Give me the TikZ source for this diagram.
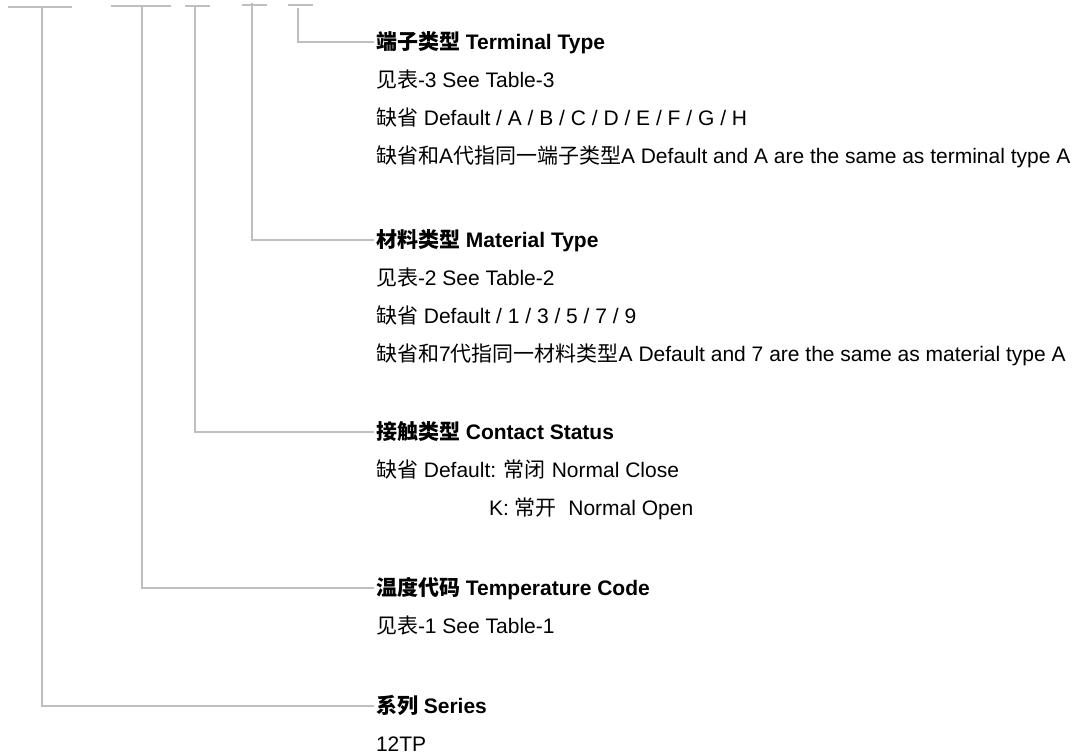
\documentclass[tikz,border=0pt]{standalone}
\usepackage{fontspec}
\setmainfont{Liberation Sans}
\newfontfamily\cjk{Noto Sans CJK SC}
\newcommand\zh[1]{{\cjk #1}}
\begin{document}
\begin{tikzpicture}[x=1pt,y=-1pt,
  txt/.style={anchor=west,inner xsep=2pt,inner ysep=0pt,outer sep=0pt,
    text height=14pt,text depth=0pt,font=\fontsize{21}{25}\selectfont},
  ttl/.style={txt,font=\fontsize{21}{25}\selectfont\bfseries},
  ln/.style={draw=black!25,line width=1.5pt}]
\useasboundingbox (0,0) rectangle (1082,755);
% top ticks
\coordinate (a1) at (8,7);   \coordinate (b1) at (72,7);   \coordinate (v1) at (42,7);
\coordinate (a2) at (111,6); \coordinate (b2) at (171,6);  \coordinate (v2) at (142,6);
\coordinate (a3) at (185,6); \coordinate (b3) at (210,6);  \coordinate (v3) at (195,6);
\coordinate (a4) at (242,5); \coordinate (b4) at (267,5);  \coordinate (v4) at (252,3);
\coordinate (a5) at (288,5); \coordinate (b5) at (313,5);  \coordinate (v5) at (298,8);
\draw[ln] (a1) -- (b1);
\draw[ln] (a2) -- (b2);
\draw[ln] (a3) -- (b3);
\draw[ln] (a4) -- (b4);
\draw[ln] (a5) -- (b5);
% texts
\node[ttl] (term) at (374,42) {\zh{端子类型} Terminal Type};
\node[txt] (term1) at (374,80) {\zh{见表}-3 See Table-3};
\node[txt] (term2) at (374,118) {\zh{缺省} Default / A / B / C / D / E / F / G / H};
\node[txt] (term3) at (374,156) {\zh{缺省和}A\zh{代指同一端子类型}A Default and A are the same as terminal type A};
\node[ttl] (mat) at (374,240) {\zh{材料类型} Material Type};
\node[txt] (mat1) at (374,278) {\zh{见表}-2 See Table-2};
\node[txt] (mat2) at (374,316) {\zh{缺省} Default / 1 / 3 / 5 / 7 / 9};
\node[txt] (mat3) at (374,354) {\zh{缺省和}7\zh{代指同一材料类型}A Default and 7 are the same as material type A};
\node[ttl] (con) at (374,432) {\zh{接触类型} Contact Status};
\node[txt] (con1) at (374,470) {\zh{缺省} Default: \zh{常闭} Normal Close};
\node[txt] (con2) at (487,508) {K: \zh{常开}\ \ Normal Open};
\node[ttl] (tem) at (374,588) {\zh{温度代码} Temperature Code};
\node[txt] (tem1) at (374,626) {\zh{见表}-1 See Table-1};
\node[ttl] (ser) at (374,706) {\zh{系列} Series};
\node[txt] (ser1) at (374,744) {12TP};
% connectors
\draw[ln] (v1) |- (ser.west);
\draw[ln] (v2) |- (tem.west);
\draw[ln] (v3) |- (con.west);
\draw[ln] (v4) |- (mat.west);
\draw[ln] (v5) |- (term.west);
\end{tikzpicture}
\end{document}
